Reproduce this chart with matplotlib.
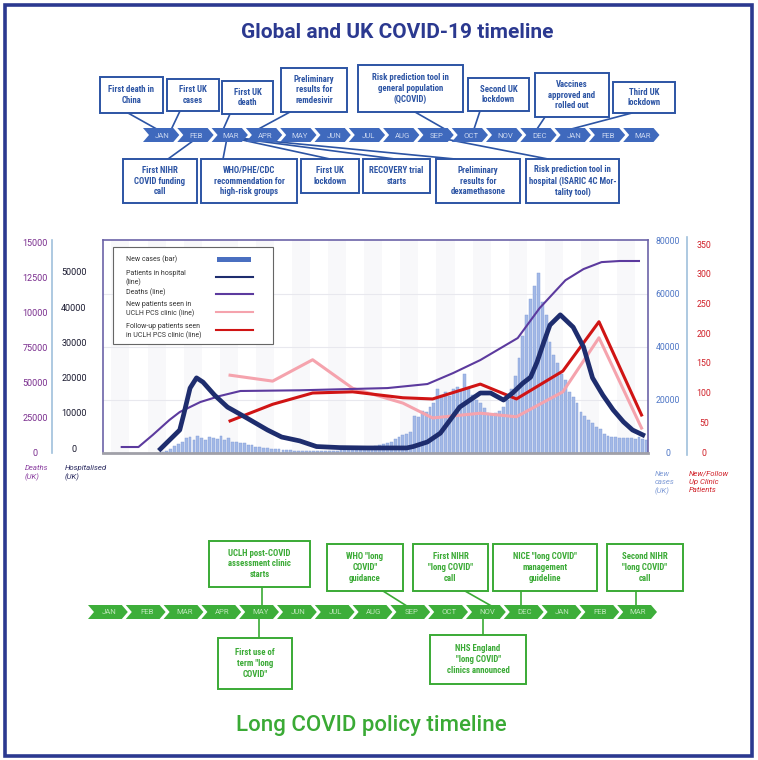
import numpy as np
import matplotlib
matplotlib.use("Agg")
import matplotlib.pyplot as plt
import matplotlib.transforms as mtransforms
from matplotlib import font_manager
from matplotlib.patches import Polygon, Rectangle

plt.rcParams['font.family'] = ['Roboto', 'DejaVu Sans']
avail = {f.name for f in font_manager.fontManager.ttflist}
narrow = next((n for n in ['Roboto Condensed', 'Liberation Sans Narrow']
               if n in avail), None)
BOX_FONT = narrow if narrow else 'Roboto'
BOX_FS = 6.3 if narrow else 5.9

# ---------------- data ----------------
months = ['JAN', 'FEB', 'MAR', 'APR', 'MAY', 'JUN', 'JUL', 'AUG',
          'SEP', 'OCT', 'NOV', 'DEC', 'JAN', 'FEB', 'MAR']

# x values are days since 1 Jan 2020
case_first_day = 76
case_step = 3
new_cases = [200, 800, 1500, 2500, 3500, 4300, 5500, 6200, 5000, 6500,
             5800, 4800, 6000, 5600, 5200, 6300, 5000, 5600, 4300, 4000,
             3600, 3800, 3000, 3200, 2400, 2100, 1900, 1800, 1600, 1500,
             1400, 1300, 1100, 1000, 900, 800, 850, 700, 750, 700,
             650, 700, 750, 800, 800, 900, 1000, 1100, 1000, 1200,
             1300, 1200, 1500, 1800, 2100, 2600, 3000, 3500, 3900, 4200,
             5300, 6000, 6700, 7200, 8000, 14000, 13500, 16000, 15500, 17500,
             19000, 24000, 22000, 23000, 21500, 24000, 25000, 23500, 30000, 24000,
             22000, 20000, 19000, 17000, 15000, 14500, 15000, 16000, 17500, 20000,
             24000, 29000, 36000, 44000, 52000, 58000, 63000, 68000, 57000, 52000,
             42000, 37000, 34000, 30000, 27500, 23000, 21000, 19000, 15500, 14000,
             12500, 11500, 10000, 9000, 7000, 6500, 6000, 6200, 5600, 5800,
             5500, 5800, 5400, 5900, 5200, 4800]

hosp_days = [74, 89, 92, 97, 102, 107, 116, 126, 141, 157, 168, 182, 195, 213,
             234, 265, 270, 281, 291, 306, 322, 330, 340, 347, 355, 361, 366,
             371, 376, 384, 394, 402, 409, 417, 425, 433, 440, 448]
hosp_vals = [0, 5400, 9700, 17300, 20200, 19000, 15300, 11900, 8800, 5400,
             3400, 2300, 700, 400, 300, 300, 700, 2000, 4500, 11900, 15900,
             15900, 13900, 15900, 18700, 20400, 24700, 30100, 35200, 38100,
             34600, 29000, 20200, 15300, 11100, 7700, 5400, 4000]

death_days = [44, 57, 68, 81, 89, 105, 120, 136, 182, 250, 281, 301, 322,
              351, 368, 388, 402, 416, 430, 445]
death_vals = [4300, 4300, 12900, 23700, 29400, 36600, 40900, 44500, 45000,
              46600, 49500, 57400, 66700, 82500, 104000, 124000, 132000,
              137000, 137800, 137800]

clinic_days = [128, 161, 192, 223, 262, 285, 322, 350, 386, 414, 447]
clinic_new = [131, 121, 157, 109, 84, 59, 67, 61, 103, 194, 42]
clinic_followup = [54, 82, 101, 103, 93, 91, 116, 91, 138, 221, 64]

death_ticks = [0, 25000, 50000, 75000, 100000, 125000, 150000]
death_labels = ['0', '25000', '50000', '75000', '10000', '12500', '15000']
hosp_ticks = [0, 10000, 20000, 30000, 40000, 50000]
case_ticks = [0, 20000, 40000, 60000, 80000]
clinic_ticks = [0, 50, 100, 150, 200, 250, 300, 350]

global_above = ["First death in\nChina", "First UK\ncases", "First UK\ndeath",
                "Preliminary\nresults for\nremdesivir",
                "Risk prediction tool in\ngeneral population\n(QCOVID)",
                "Second UK\nlockdown", "Vaccines\napproved and\nrolled out",
                "Third UK\nlockdown"]
global_below = ["First NIHR\nCOVID funding\ncall",
                "WHO/PHE/CDC\nrecommendation for\nhigh-risk groups",
                "First UK\nlockdown", "RECOVERY trial\nstarts",
                "Preliminary\nresults for\ndexamethasone",
                "Risk prediction tool in\nhospital (ISARIC 4C Mor-\ntality tool)"]
long_above = ['UCLH post-COVID\nassessment clinic\nstarts',
              'WHO "long\nCOVID"\nguidance',
              'First NIHR\n"long COVID"\ncall',
              'NICE "long COVID"\nmanagement\nguideline',
              'Second NIHR\n"long COVID"\ncall']
long_below = ['First use of\nterm "long\nCOVID"',
              'NHS England\n"long COVID"\nclinics announced']

# ---------------- layout (pixels) ----------------
W, H = 758, 760
ga_boxes = [(100, 77, 163, 113), (167, 79, 219, 111), (222, 81, 273, 114),
            (281, 68, 347, 112), (358, 65, 463, 112), (468, 78, 529, 111),
            (535, 73, 609, 117), (613, 82, 675, 113)]
ga_links = [(128, 113, 162, 132), (180, 111, 170, 132), (230, 114, 222, 132),
            (290, 112, 253, 132), (415, 112, 450, 132), (480, 111, 473, 132),
            (545, 117, 535, 132), (632, 113, 560, 132)]
gb_boxes = [(123, 159, 197, 203), (201, 159, 297, 203), (301, 159, 359, 193),
            (363, 159, 430, 193), (436, 159, 520, 203), (526, 159, 619, 203)]
gb_links = [(168, 159, 197, 138), (223, 159, 227, 138), (330, 159, 233, 138),
            (395, 159, 235, 138), (455, 159, 237, 138), (548, 159, 440, 138)]
la_boxes = [(209, 541, 310, 587), (327, 544, 403, 591), (413, 544, 488, 591),
            (493, 544, 597, 591), (607, 544, 683, 591)]
la_links = [(262, 587, 262, 608), (383, 591, 410, 608), (465, 591, 495, 608),
            (521, 591, 521, 608), (636, 591, 636, 608)]
lb_boxes = [(218, 638, 292, 689), (430, 635, 526, 684)]
lb_links = [(259, 616, 259, 638), (483, 616, 483, 635)]

BLUE = '#2c54a4'
CHEV_BLUE = '#3f69bd'
GREEN = '#3aaa35'
NAVY = '#2b3990'

fig = plt.figure(figsize=(7.58, 7.60), dpi=100)


def fig_rect(x0, y0, x1, y1):
    return [x0 / W, 1 - y1 / H, (x1 - x0) / W, (y1 - y0) / H]


# ---------------- main chart ----------------
ax = fig.add_axes(fig_rect(103, 240, 648, 453))
ax.set_xlim(29.5, 452)
ax.set_ylim(0, 80380)
for d in range(36, 452, 28):
    ax.axvspan(d, d + 14, color='#f8f8fa', lw=0, zorder=0)
ax.set_yticks([20000, 40000, 60000])
ax.yaxis.grid(True, color='#e8e8ee', lw=0.8)
ax.set_axisbelow(True)
for s in ['top', 'left', 'right']:
    ax.spines[s].set_color('#6c63a8')
    ax.spines[s].set_linewidth(1.2)
ax.spines['bottom'].set_color('#a0a0a8')
ax.spines['bottom'].set_linewidth(2)

case_days = case_first_day + case_step * np.arange(len(new_cases))
ax.bar(case_days, new_cases, width=2.2, color='#a3b9e6', edgecolor='#7e9bd8',
       linewidth=0.3, zorder=2)

ax_c = ax.twinx()
ax_c.set_ylim(0, 358.6)
ax_c.plot(clinic_days, clinic_new, color='#f5a3ad', lw=2.2)
ax_c.plot(clinic_days, clinic_followup, color='#d01414', lw=2.2)
ax_c.set_axis_off()

ax_d = ax.twinx()
ax_d.set_ylim(0, 152870)
ax_d.plot(death_days, death_vals, color='#5c3a9e', lw=1.5)
ax_d.set_axis_off()

ax_h = ax.twinx()
ax_h.set_ylim(-1136, 59356)
ax_h.plot(hosp_days, hosp_vals, color='#1e2d6e', lw=3.4,
          solid_joinstyle='round')
ax_h.set_axis_off()

# twinx turns the left ticks back on, so switch them off afterwards
ax.tick_params(left=False, right=False, bottom=False, labelleft=False,
               labelright=False, labelbottom=False)

# ---------------- overlay in pixel coords ----------------
ov = fig.add_axes([0, 0, 1, 1])
ov.set_xlim(0, W)
ov.set_ylim(H, 0)
ov.set_axis_off()

ov.add_patch(Rectangle((5, 5), 747, 751, fill=False, ec=NAVY, lw=2.6))

ov.text(397, 33, 'Global and UK COVID-19 timeline', ha='center', va='center',
        fontsize=15, color=NAVY, fontweight='bold')
ov.text(371, 725, 'Long COVID policy timeline', ha='center', va='center',
        fontsize=16, color=GREEN, fontweight='medium')


def chevron_row(x_start, pitch, yc, color, tcolor):
    h, t = 14, 6
    w = pitch + 2
    for i, m in enumerate(months):
        x0 = x_start + i * pitch
        pts = [(x0, yc - h / 2), (x0 + w - t, yc - h / 2), (x0 + w, yc),
               (x0 + w - t, yc + h / 2), (x0, yc + h / 2), (x0 + t, yc)]
        ov.add_patch(Polygon(pts, closed=True, fc=color, ec='none', zorder=3))
        ov.text(x0 + w / 2 + 1, yc + 0.5, m, ha='center', va='center',
                fontsize=5.6, color=tcolor, zorder=4)


def boxes(rects, texts, links, color):
    for (x0, y0, x1, y1), txt, (xa, ya, xb, yb) in zip(rects, texts, links):
        ov.plot([xa, xb], [ya, yb], color=color, lw=1.2, zorder=2)
        ov.add_patch(Rectangle((x0, y0), x1 - x0, y1 - y0, fc='white',
                               ec=color, lw=1.4, zorder=3))
        ov.text((x0 + x1) / 2, (y0 + y1) / 2, txt, ha='center', va='center',
                fontsize=BOX_FS, family=BOX_FONT, color=color,
                fontweight='bold', linespacing=1.25, zorder=4)


boxes(ga_boxes, global_above, ga_links, BLUE)
boxes(gb_boxes, global_below, gb_links, BLUE)
chevron_row(143, 34.3, 135, CHEV_BLUE, '#c9d6f0')

boxes(la_boxes, long_above, la_links, GREEN)
boxes(lb_boxes, long_below, lb_links, GREEN)
chevron_row(88, 37.8, 612, '#3dae3a', '#bfe6bb')

# axis tick labels placed through each series' own y scale
tr_d = mtransforms.blended_transform_factory(ov.transData, ax_d.transData)
tr_h = mtransforms.blended_transform_factory(ov.transData, ax_h.transData)
tr_n = mtransforms.blended_transform_factory(ov.transData, ax.transData)
tr_c = mtransforms.blended_transform_factory(ov.transData, ax_c.transData)
for v, s in zip(death_ticks, death_labels):
    ov.text(35, v, s, transform=tr_d, ha='center', va='center',
            fontsize=6.5, color='#7a2e8e')
for v in hosp_ticks:
    ov.text(74, v, str(v), transform=tr_h, ha='center', va='center',
            fontsize=6.5, color='#1a1a30')
for v in case_ticks:
    ov.text(668, v, str(v), transform=tr_n, ha='center', va='center',
            fontsize=6.3, color='#4f77c6')
for v in clinic_ticks:
    ov.text(704, v, str(v), transform=tr_c, ha='center', va='center',
            fontsize=6.3, color='#d02028')

ov.plot([52, 52], [240, 453], color='#9fc0dc', lw=1.2)
ov.plot([687, 687], [237, 455], color='#9fc0dc', lw=1.2)

ov.text(25, 465, 'Deaths\n(UK)', ha='left', va='top', fontsize=5.6,
        style='italic', color='#8a3ea0', linespacing=1.4)
ov.text(65, 465, 'Hospitalised\n(UK)', ha='left', va='top', fontsize=5.6,
        style='italic', color='#2a2a60', linespacing=1.4)
ov.text(655, 471, 'New\ncases\n(UK)', ha='left', va='top', fontsize=5.6,
        style='italic', color='#7f9bd6', linespacing=1.4)
ov.text(689, 471, 'New/Follow\nUp Clinic\nPatients', ha='left', va='top',
        fontsize=5.6, style='italic', color='#d02028', linespacing=1.4)

# legend
ov.add_patch(Rectangle((113, 247), 160, 97, fc='white', ec='#666666',
                       lw=0.8, zorder=5))
leg_text = ['New cases (bar)', 'Patients in hospital\n(line)', 'Deaths (line)',
            'New patients seen in\nUCLH PCS clinic (line)',
            'Follow-up patients seen\nin UCLH PCS clinic (line)']
leg_y = [259, 278, 292, 309, 331]
leg_line_y = [259, 277, 294, 312, 330]
leg_col = ['#4a6fc0', '#1e2d6e', '#5c3a9e', '#f5a3ad', '#d01414']
for txt, ty, ly, c in zip(leg_text, leg_y, leg_line_y, leg_col):
    ov.text(126, ty, txt, ha='left', va='center', fontsize=5,
            color='#333333', linespacing=1.35, zorder=6)
    if c == '#4a6fc0':
        ov.add_patch(Rectangle((217, ly - 2.5), 34, 5, fc=c, ec='none',
                               zorder=6))
    else:
        ov.plot([216, 253], [ly, ly], color=c, lw=1.5, zorder=6)

fig.savefig('out.png', dpi=100)
